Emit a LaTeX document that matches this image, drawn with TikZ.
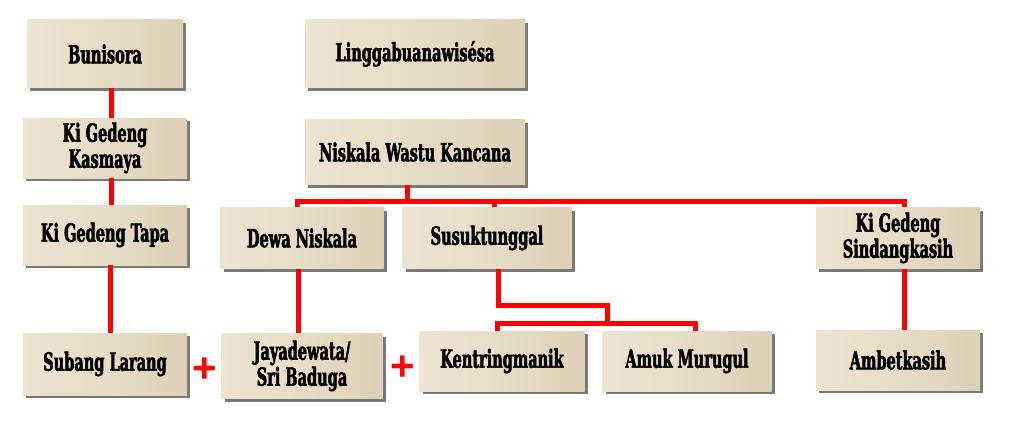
\documentclass[tikz,border=0pt]{standalone}
\usepackage{fontspec}
\newfontfamily\boxfont[FakeStretch=0.58,FakeBold=2]{DejaVu Serif}
\newfontfamily\plusfont{Liberation Sans}
\usetikzlibrary{shadows}
\definecolor{parch}{HTML}{E6DCC6}
\definecolor{parchdark}{HTML}{DDD0B6}
\definecolor{parchlight}{HTML}{ECE3D1}
\definecolor{linkred}{HTML}{FF0000}
\tikzset{
  person/.style={rectangle, draw=none, inner sep=2pt, align=center,
    left color=parchlight, right color=parchdark, middle color=parch,
    font=\boxfont\bfseries\fontsize{25}{26}\selectfont,
    drop shadow={shadow xshift=3pt, shadow yshift=-3pt, opacity=0.7, fill=black!75}},
  link/.style={draw=linkred, line width=5pt},
  plus/.style={text=linkred, font=\plusfont\bfseries\fontsize{42}{42}\selectfont, inner sep=0pt}
}
\begin{document}
\begin{tikzpicture}[x=1pt,y=-1pt]
\useasboundingbox (0,0) rectangle (1010,436);
\coordinate (bar) at (407,201);
% nodes
\node[person, minimum width=156pt, minimum height=68pt] (bun) at (105,54) {Bunisora};
\node[person, minimum width=164pt, minimum height=60pt] (kas) at (105,148) {Ki Gedeng\\Kasmaya};
\node[person, minimum width=164pt, minimum height=60pt] (tap) at (105,235) {Ki Gedeng Tapa};
\node[person, minimum width=164pt, minimum height=62pt] (sub) at (105,364) {Subang Larang};
\node[person, minimum width=220pt, minimum height=68pt] (lin) at (415,54) {Linggabuanawis\'esa};
\node[person, minimum width=220pt, minimum height=65pt] (nis) at (415,152) {Niskala Wastu Kancana};
\node[person, minimum width=163pt, minimum height=61pt] (dew) at (302,238) {Dewa Niskala};
\node[person, minimum width=169pt, minimum height=61pt] (sus) at (487,238) {Susuktunggal};
\node[person, minimum width=164pt, minimum height=61pt] (sin) at (898,238) {Ki Gedeng\\Sindangkasih};
\node[person, minimum width=161pt, minimum height=65pt] (jay) at (302,366) {Jayadewata/\\Sri Baduga};
\node[person, minimum width=165pt, minimum height=60pt] (ken) at (502,361) {Kentringmanik};
\node[person, minimum width=169pt, minimum height=60pt] (amu) at (687,361) {Amuk Murugul};
\node[person, minimum width=164pt, minimum height=60pt] (amb) at (898,360) {Ambetkasih};
% connectors
\draw[link] ([xshift=6pt]bun.south) -- ([xshift=6pt]kas.north);
\draw[link] ([xshift=6pt]kas.south) -- ([xshift=6pt]tap.north);
\draw[link] ([xshift=5pt]tap.south) -- ([xshift=5pt]sub.north);
\draw[link] ([xshift=-8pt]nis.south) -- (bar);
\draw[link] ([xshift=-5pt]dew.north) |- (bar) -| ([xshift=6pt]sin.north);
\draw[link] ([xshift=7pt]sus.north) -- ([xshift=7pt]sus.north |- bar);
\draw[link] ([xshift=-4pt]dew.south) -- ([xshift=-4pt]jay.north);
\coordinate (kbar) at (607,323);
\draw[link] ([xshift=11pt]sus.south) |- (607,305) -- (kbar);
\draw[link] ([xshift=-5pt]ken.north) |- (kbar) -| ([xshift=8pt]amu.north);
\draw[link] ([xshift=6pt]sin.south) -- ([xshift=6pt]amb.north);
% plus signs
\node[plus] (p1) at (205,370) {+};
\node[plus] (p2) at (403,368) {+};
\end{tikzpicture}
\end{document}
